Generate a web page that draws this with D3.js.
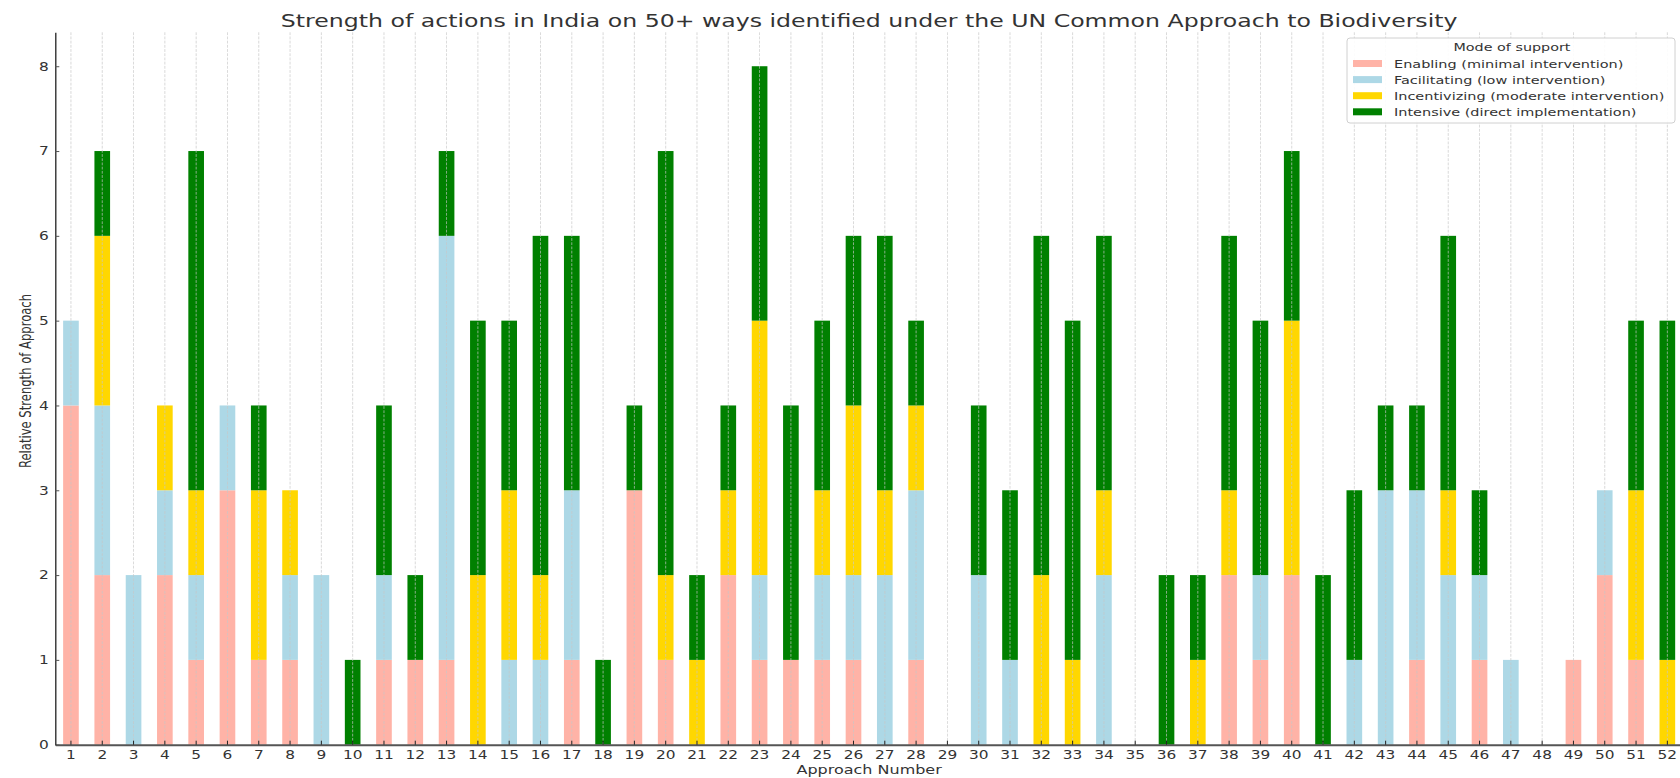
<!DOCTYPE html>
<html><head><meta charset="utf-8">
<script src="https://cdn.jsdelivr.net/npm/d3@7"></script>
<style>
body{margin:0;background:#fff;}
svg{display:block;font-family:"DejaVu Sans",sans-serif;}
</style>
</head><body>
<svg id="chart" width="1680" height="778"></svg>
<script>
const categories = [1,2,3,4,5,6,7,8,9,10,11,12,13,14,15,16,17,18,19,20,21,22,23,24,25,26,
  27,28,29,30,31,32,33,34,35,36,37,38,39,40,41,42,43,44,45,46,47,48,49,50,51,52];
const enabling      = [4,2,0,2,1,3,1,1,0,0, 1,1,1,0,0,0,1,0,3,1, 0,2,1,1,1,1,0,1,0,0, 0,0,0,0,0,0,0,2,1,2, 0,0,0,1,0,1,0,0,1,2, 1,0];
const facilitating  = [1,2,2,1,1,1,0,1,2,0, 1,0,5,0,1,1,2,0,0,0, 0,0,1,0,1,1,2,2,0,2, 1,0,0,2,0,0,0,0,1,0, 0,1,3,2,2,1,1,0,0,1, 0,0];
const incentivizing = [0,2,0,1,1,0,2,1,0,0, 0,0,0,2,2,1,0,0,0,1, 1,1,3,0,1,2,1,1,0,0, 0,2,1,1,0,0,1,1,0,3, 0,0,0,0,1,0,0,0,0,0, 2,1];
const intensive     = [0,1,0,0,4,0,1,0,0,1, 2,1,1,3,2,4,3,1,1,5, 1,1,3,3,2,2,3,1,0,2, 2,4,4,3,0,2,1,3,3,2, 2,2,1,1,3,1,0,0,0,0, 2,4];
const seriesKeys   = ["enabling","facilitating","incentivizing","intensive"];
const seriesNames  = ["Enabling (minimal intervention)","Facilitating (low intervention)",
                      "Incentivizing (moderate intervention)","Intensive (direct implementation)"];
const seriesColors = ["#FFB3A7","#ADD8E6","#FFD700","#008000"];
const yTicks = [0,1,2,3,4,5,6,7,8];
const titleText = "Strength of actions in India on 50+ ways identified under the UN Common Approach to Biodiversity";
const xLabel = "Approach Number";
const yLabel = "Relative Strength of Approach";
const legendTitle = "Mode of support";

const SX = 1.28; // horizontal text stretch of the reference image
const svg = d3.select("#chart");
const M = {left:55.3, right:1683, top:32.3, bottom:744.7};

const table = categories.map((c,i)=>({cat:c, enabling:enabling[i], facilitating:facilitating[i],
  incentivizing:incentivizing[i], intensive:intensive[i]}));
const stacked = d3.stack().keys(seriesKeys)(table);

const x = d3.scaleBand().domain(categories).range([M.left, M.right]).paddingInner(0.5).paddingOuter(0.25);
const y = d3.scaleLinear().domain([0, 8.4]).range([M.bottom, M.top]);
const color = d3.scaleOrdinal().domain(seriesKeys).range(seriesColors);

function stretchAt(sel, ax, ay){
  sel.attr("transform", `translate(${ax},${ay}) scale(${SX},1) translate(${-ax},${-ay})`);
}

// bars
svg.append("g").selectAll("g").data(stacked).join("g")
  .attr("fill", d=>color(d.key))
  .selectAll("rect").data(d=>d).join("rect")
  .attr("x", d=>x(d.data.cat))
  .attr("width", x.bandwidth())
  .attr("y", d=>y(d[1]))
  .attr("height", d=>y(d[0])-y(d[1]));

// vertical grid (drawn over bars)
svg.append("g").selectAll("line").data(categories).join("line")
  .attr("x1", d=>x(d)+x.bandwidth()/2).attr("x2", d=>x(d)+x.bandwidth()/2)
  .attr("y1", M.top).attr("y2", M.bottom)
  .attr("stroke", "#c8c8c8").attr("stroke-width", 0.8)
  .attr("stroke-dasharray", "2.8,1.4").attr("opacity", 0.85);

// x axis
const gx = svg.append("g").attr("transform", `translate(0,${M.bottom})`)
  .call(d3.axisBottom(x).tickSize(-4).tickSizeOuter(0).tickPadding(6));
gx.select(".domain").attr("stroke", "#555").attr("stroke-width", 2);
gx.selectAll(".tick line").attr("stroke", "#222").attr("stroke-width", 1);
gx.selectAll(".tick text").attr("font-family", "DejaVu Sans").attr("font-size", 12).attr("fill", "#333")
  .attr("transform", `scale(${SX},1)`);

// y axis
const gy = svg.append("g").attr("transform", `translate(${M.left},0)`)
  .call(d3.axisLeft(y).tickValues(yTicks).tickFormat(d3.format("d")).tickSize(-4).tickSizeOuter(0).tickPadding(6.5));
gy.select(".domain").attr("stroke", "#222").attr("stroke-width", 1.3);
gy.selectAll(".tick line").attr("stroke", "#555").attr("stroke-width", 1);
gy.selectAll(".tick text").attr("font-family", "DejaVu Sans").attr("font-size", 12).attr("fill", "#333")
  .attr("transform", `translate(-6.5,0) scale(${SX},1) translate(6.5,0)`);

// title
const cx = (M.left + M.right)/2;
svg.append("text").attr("x", cx).attr("y", 27).attr("text-anchor","middle")
  .attr("font-size", 18.45).attr("fill","#333").text(titleText)
  .call(s=>stretchAt(s, cx, 27));

// axis labels
svg.append("text").attr("x", cx).attr("y", 774).attr("text-anchor","middle")
  .attr("font-size", 12.5).attr("fill","#333").text(xLabel)
  .call(s=>stretchAt(s, cx, 774));
const yl = 381;
svg.append("text").attr("text-anchor","middle").attr("font-size", 11.6).attr("fill","#333")
  .attr("transform", `translate(31,${yl}) scale(1.36,1) rotate(-90)`).text(yLabel);

// legend
const lg = svg.append("g");
lg.append("rect").attr("x", 1347).attr("y", 38).attr("width", 328).attr("height", 85)
  .attr("rx", 3).attr("fill", "#fff").attr("fill-opacity", 0.9)
  .attr("stroke", "#d0d0d0").attr("stroke-width", 1);
lg.append("text").attr("x", 1512).attr("y", 51.5).attr("text-anchor","middle")
  .attr("font-size", 11.2).attr("fill","#333").text(legendTitle)
  .call(s=>stretchAt(s, 1512, 51.5));
const rows = lg.selectAll("g.row").data(seriesKeys).join("g").attr("class","row")
  .attr("transform", (d,i)=>`translate(0,${67.5 + i*16.1})`);
rows.append("rect").attr("x", 1353).attr("y", -7.5).attr("width", 29).attr("height", 7)
  .attr("fill", d=>color(d));
rows.append("text").attr("x", 1394).attr("y", 0).attr("font-size", 11.3).attr("fill","#333")
  .text((d,i)=>seriesNames[i])
  .attr("transform", `translate(1394,0) scale(${SX},1) translate(-1394,0)`);
</script>
</body></html>
